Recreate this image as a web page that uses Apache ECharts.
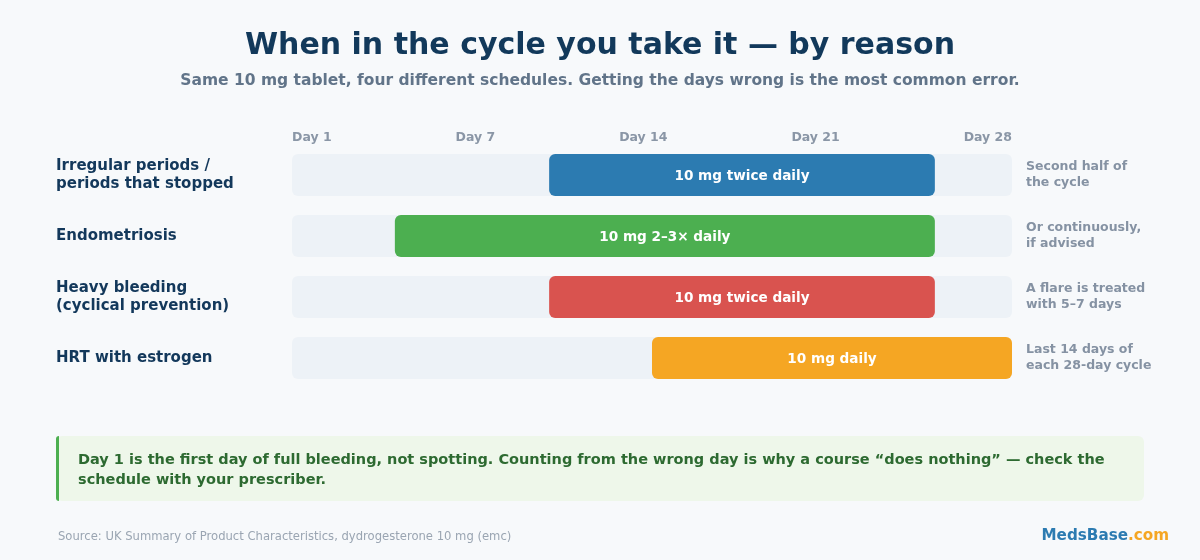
<!DOCTYPE html>
<html>
<head>
<meta charset="utf-8">
<script src="https://cdn.jsdelivr.net/npm/echarts@6/dist/echarts.min.js"></script>
<style>
html,body{margin:0;padding:0;background:#f7f9fb;}
#chart{width:1200px;height:560px;}
</style>
</head>
<body>
<div id="chart"></div>
<script>
// ---- data ----
const reasons = ['Irregular periods /\nperiods that stopped', 'Endometriosis', 'Heavy bleeding\n(cyclical prevention)', 'HRT with estrogen'];
const startDay = [11, 5, 11, 15];
const endDay = [25, 25, 25, 28];
const doseLabels = ['10 mg twice daily', '10 mg 2\u20133\u00d7 daily', '10 mg twice daily', '10 mg daily'];
const notes = ['Second half of\nthe cycle', 'Or continuously,\nif advised', 'A flare is treated\nwith 5\u20137 days', 'Last 14 days of\neach 28-day cycle'];
const dayTicks = ['Day 1', 'Day 7', 'Day 14', 'Day 21', 'Day 28'];
const cycleLength = 28;
const barColors = ['#2c7bb1', '#4caf50', '#d9534f', '#f5a623'];

const FONT = '"DejaVu Sans", Verdana, sans-serif';
const GRID_LEFT = 292, GRID_W = 720;
const TICK_FONT = 'bold 12.5px ' + FONT;

// place day labels like a space-between row across the track
const cv = document.createElement('canvas').getContext('2d');
cv.font = TICK_FONT;
const widths = dayTicks.map(t => cv.measureText(t).width);
const gap = (GRID_W - widths.reduce((a, b) => a + b, 0)) / (dayTicks.length - 1);
const tickVals = [];
let acc = 0;
widths.forEach((w, i) => { tickVals.push((acc + w / 2) / GRID_W * cycleLength); acc += w + gap; });
function tickName(v) {
  let best = 0, bd = 1e9;
  tickVals.forEach((t, i) => { const d = Math.abs(t - v); if (d < bd) { bd = d; best = i; } });
  return dayTicks[best];
}

const trackData = reasons.map((r, i) => [i, 0, cycleLength]);
const barData = reasons.map((r, i) => [i, startDay[i] - 1, endDay[i], doseLabels[i]]);
const BAR_H = 42;

const chart = echarts.init(document.getElementById('chart'), null, {renderer: 'canvas'});
chart.setOption({
  backgroundColor: '#f7f9fb',
  animation: false,
  textStyle: {fontFamily: FONT},
  title: [
    {text: 'When in the cycle you take it \u2014 by reason', left: 'center', top: 26,
     textStyle: {fontSize: 30, fontWeight: 'bold', color: '#12395b', fontFamily: FONT}},
    {text: 'Same 10 mg tablet, four different schedules. Getting the days wrong is the most common error.',
     left: 'center', top: 68, textStyle: {fontSize: 15.5, fontWeight: 'bold', color: '#617489', fontFamily: FONT}}
  ],
  grid: {left: GRID_LEFT, width: GRID_W, top: 144.5, height: 244},
  xAxis: {
    type: 'value', position: 'top', min: 0, max: cycleLength,
    axisLine: {show: false}, axisTick: {show: false}, splitLine: {show: false},
    axisLabel: {
      customValues: tickVals, showMinLabel: true, showMaxLabel: true,
      formatter: v => tickName(v), color: '#8a96a6', fontSize: 12.5, fontWeight: 'bold',
      fontFamily: FONT, margin: 0
    }
  },
  yAxis: [
    {type: 'category', data: reasons, inverse: true,
     axisLine: {show: false}, axisTick: {show: false}, splitLine: {show: false},
     axisLabel: {align: 'left', margin: 236, color: '#13385b', fontSize: 15, fontWeight: 'bold',
                 lineHeight: 18, fontFamily: FONT}},
    {type: 'category', data: notes, inverse: true, position: 'right',
     axisLine: {show: false}, axisTick: {show: false}, splitLine: {show: false},
     axisLabel: {align: 'left', margin: 14, color: '#8592a3', fontSize: 12.5, fontWeight: 'bold',
                 lineHeight: 16, fontFamily: FONT}}
  ],
  series: [
    {
      type: 'custom', data: trackData, encode: {y: 0, x: [1, 2]},
      renderItem: function (params, api) {
        const s = api.coord([api.value(1), api.value(0)]);
        const e = api.coord([api.value(2), api.value(0)]);
        return {type: 'rect', shape: {x: s[0], y: s[1] - BAR_H / 2, width: e[0] - s[0], height: BAR_H, r: 6},
                style: {fill: '#edf2f7'}};
      }
    },
    {
      type: 'custom', data: barData, encode: {y: 0, x: [1, 2]},
      renderItem: function (params, api) {
        const i = params.dataIndex;
        const s = api.coord([api.value(1), api.value(0)]);
        const e = api.coord([api.value(2), api.value(0)]);
        return {
          type: 'group', children: [
            {type: 'rect', shape: {x: s[0], y: s[1] - BAR_H / 2, width: e[0] - s[0], height: BAR_H, r: 6},
             style: {fill: barColors[i]}},
            {type: 'text', x: (s[0] + e[0]) / 2, y: s[1] + 1,
             style: {text: barData[i][3], fill: '#ffffff', font: 'bold 13.6px ' + FONT,
                     align: 'center', verticalAlign: 'middle'}}
          ]
        };
      }
    }
  ],
  graphic: [
    {type: 'rect', left: 56, top: 436, shape: {width: 1088, height: 65, r: 6}, style: {fill: '#eef7ea'}},
    {type: 'rect', left: 56, top: 436, shape: {width: 3, height: 65, r: [3, 0, 0, 3]}, style: {fill: '#4caf50'}},
    {type: 'text', left: 78, top: 450,
     style: {text: 'Day 1 is the first day of full bleeding, not spotting. Counting from the wrong day is why a course \u201cdoes nothing\u201d \u2014 check the\nschedule with your prescriber.',
             fill: '#2d6a31', font: 'bold 14.5px ' + FONT, lineHeight: 20}},
    {type: 'text', left: 58, top: 531,
     style: {text: 'Source: UK Summary of Product Characteristics, dydrogesterone 10 mg (emc)',
             fill: '#9aa5b2', font: '11.6px ' + FONT}},
    {type: 'text', right: 31, top: 529,
     style: {text: '{a|MedsBase}{b|.com}',
             rich: {a: {fill: '#2c7bb1', font: 'bold 15.2px ' + FONT}, b: {fill: '#f5a623', font: 'bold 15.2px ' + FONT}}}}
  ]
});
</script>
</body>
</html>
